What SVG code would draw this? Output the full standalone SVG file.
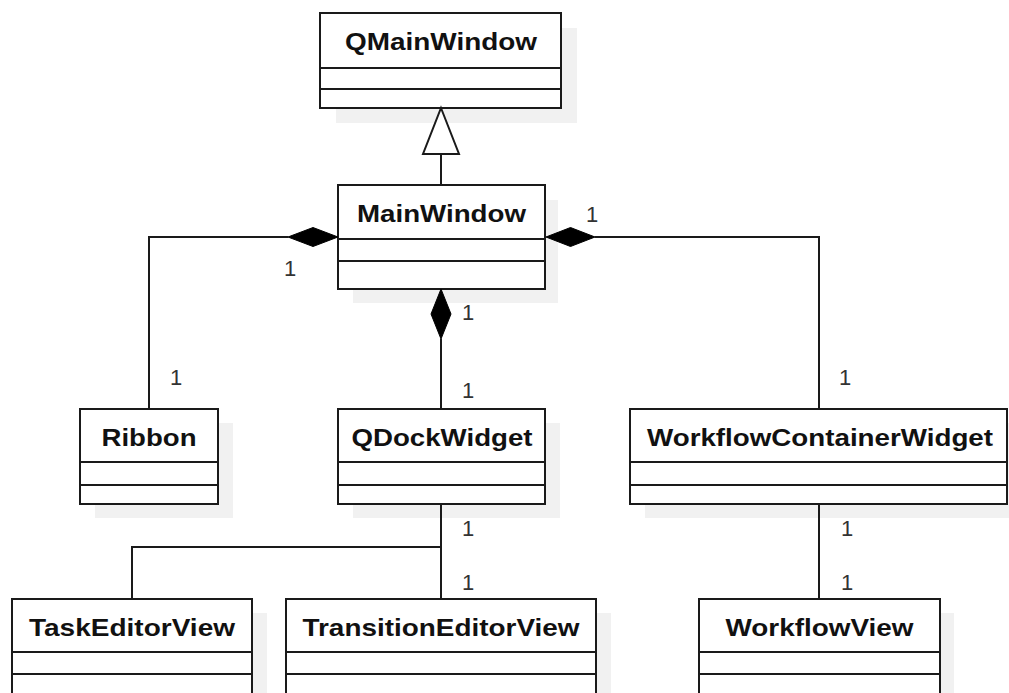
<svg xmlns="http://www.w3.org/2000/svg" width="1009" height="693" viewBox="0 0 1009 693">
<style>
.bg{fill:#ffffff}
.shadow{fill:#f1f1f1;stroke:none}
.box{fill:#ffffff;stroke:#1a1a1a;stroke-width:2}
.div{stroke:#1a1a1a;stroke-width:2}
.name{font-family:"Liberation Sans",Arial,sans-serif;font-weight:bold;font-size:24px;fill:#111;text-anchor:middle}
.mult{font-family:"Liberation Sans",Arial,sans-serif;font-size:22px;fill:#333;text-anchor:middle}
.line{fill:none;stroke:#1a1a1a;stroke-width:2}
.dia{fill:#000;stroke:#000;stroke-width:1}
.tri{fill:#fff;stroke:#1a1a1a;stroke-width:2;stroke-linejoin:miter}
</style>
<rect class="bg" x="0" y="0" width="1009" height="693"/>

<g id="QMainWindow">
<rect class="shadow" x="336" y="28" width="241" height="95"/>
<rect class="box" x="320" y="13" width="241" height="95"/>
<line class="div" x1="320" y1="68" x2="561" y2="68"/>
<line class="div" x1="320" y1="89" x2="561" y2="89"/>
<text class="name" x="441" y="49.5" textLength="192" lengthAdjust="spacingAndGlyphs">QMainWindow</text>
</g>

<g id="MainWindow">
<rect class="shadow" x="353" y="200" width="205" height="103"/>
<rect class="box" x="338" y="185" width="207" height="104"/>
<line class="div" x1="338" y1="239" x2="545" y2="239"/>
<line class="div" x1="338" y1="261" x2="545" y2="261"/>
<text class="name" x="441.5" y="222" textLength="169" lengthAdjust="spacingAndGlyphs">MainWindow</text>
</g>

<g id="Ribbon">
<rect class="shadow" x="95" y="423" width="138" height="95"/>
<rect class="box" x="80" y="409" width="138" height="95"/>
<line class="div" x1="80" y1="462" x2="218" y2="462"/>
<line class="div" x1="80" y1="485" x2="218" y2="485"/>
<text class="name" x="149" y="445.5" textLength="95" lengthAdjust="spacingAndGlyphs">Ribbon</text>
</g>

<g id="QDockWidget">
<rect class="shadow" x="353" y="423" width="207" height="95"/>
<rect class="box" x="338" y="409" width="207" height="95"/>
<line class="div" x1="338" y1="462" x2="545" y2="462"/>
<line class="div" x1="338" y1="485" x2="545" y2="485"/>
<text class="name" x="442" y="445.5" textLength="181" lengthAdjust="spacingAndGlyphs">QDockWidget</text>
</g>

<g id="WorkflowContainerWidget">
<rect class="shadow" x="645" y="423" width="378" height="95"/>
<rect class="box" x="630" y="409" width="377" height="95"/>
<line class="div" x1="630" y1="462" x2="1007" y2="462"/>
<line class="div" x1="630" y1="485" x2="1007" y2="485"/>
<text class="name" x="820" y="445.5" textLength="346" lengthAdjust="spacingAndGlyphs">WorkflowContainerWidget</text>
</g>

<g id="TaskEditorView">
<rect class="shadow" x="27" y="613" width="240" height="100"/>
<rect class="box" x="12" y="599" width="240" height="110"/>
<line class="div" x1="12" y1="652" x2="252" y2="652"/>
<line class="div" x1="12" y1="674" x2="252" y2="674"/>
<text class="name" x="132" y="635.5" textLength="206" lengthAdjust="spacingAndGlyphs">TaskEditorView</text>
</g>

<g id="TransitionEditorView">
<rect class="shadow" x="301" y="613" width="310" height="100"/>
<rect class="box" x="286" y="599" width="310" height="110"/>
<line class="div" x1="286" y1="652" x2="596" y2="652"/>
<line class="div" x1="286" y1="674" x2="596" y2="674"/>
<text class="name" x="441" y="635.5" textLength="277" lengthAdjust="spacingAndGlyphs">TransitionEditorView</text>
</g>

<g id="WorkflowView">
<rect class="shadow" x="714" y="613" width="240" height="100"/>
<rect class="box" x="699" y="599" width="241" height="110"/>
<line class="div" x1="699" y1="652" x2="940" y2="652"/>
<line class="div" x1="699" y1="674" x2="940" y2="674"/>
<text class="name" x="819.5" y="635.5" textLength="188" lengthAdjust="spacingAndGlyphs">WorkflowView</text>
</g>

<g id="connectors">
<path class="line" d="M441,185 L441,154"/>
<path class="tri" d="M441,108 L459,154 L423,154 Z"/>

<path class="line" d="M288,237 L149,237 L149,409"/>
<path class="dia" d="M338,237 L313,227.5 L288,237 L313,246.5 Z"/>

<path class="line" d="M595,237 L819,237 L819,409"/>
<path class="dia" d="M546,237 L570.5,227.5 L595,237 L570.5,246.5 Z"/>

<path class="line" d="M441,339 L441,409"/>
<path class="dia" d="M441,289 L451,314 L441,339 L431,314 Z"/>

<path class="line" d="M441,504 L441,599"/>
<path class="line" d="M441,547 L132,547 L132,599"/>

<path class="line" d="M819,504 L819,599"/>

<text class="mult" x="290" y="276">1</text>
<text class="mult" x="176" y="385">1</text>
<text class="mult" x="592" y="222">1</text>
<text class="mult" x="845" y="385">1</text>
<text class="mult" x="468" y="320">1</text>
<text class="mult" x="468" y="398">1</text>
<text class="mult" x="468" y="536">1</text>
<text class="mult" x="468" y="590">1</text>
<text class="mult" x="847" y="536">1</text>
<text class="mult" x="847" y="590">1</text>
</g>
</svg>
